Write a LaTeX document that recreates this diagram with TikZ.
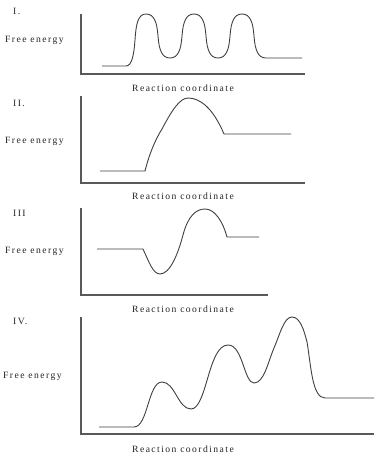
\documentclass[tikz,border=0pt]{standalone}
\usepackage{fontspec}
\setmainfont{Liberation Serif}
\newfontfamily\lblfont[LetterSpace=15]{Liberation Serif}
\begin{document}
\begin{tikzpicture}[x=1pt,y=-1pt,
  lbl/.style={font=\lblfont\fontsize{9.6}{10}\selectfont, inner sep=0pt, text=black!85},
  axis/.style={draw=black!65, line width=1.1pt},
  curve/.style={draw=black!75, line width=0.9pt}]
\useasboundingbox[fill=white] (0,0) rectangle (391,454);
% ---------- Panel I ----------
\node[lbl, anchor=west] (n1) at (13,11) {I.};
\node[lbl, anchor=west] (fe1) at (5,40) {Free energy};
\node[lbl] (rc1) at (183,88) {Reaction coordinate};
\coordinate (a1t) at (81,14); \coordinate (a1o) at (81,74); \coordinate (a1r) at (305,74);
\draw[axis] (a1t) -- (a1o) -- (a1r);
\draw[curve] (102,66) -- (126,66)
  .. controls (132,66) and (134,54) .. (135,40) .. controls (136,24) and (138,14) .. (146,14)
  .. controls (154,14) and (157,22) .. (158,36) .. controls (159,50) and (162,58) .. (170,58)
  .. controls (178,58) and (181,50) .. (182,36) .. controls (183,22) and (186,14) .. (194,14)
  .. controls (202,14) and (205,22) .. (206,36) .. controls (207,50) and (210,58) .. (218,58)
  .. controls (226,58) and (229,50) .. (230,36) .. controls (231,22) and (234,14) .. (242,14)
  .. controls (250,14) and (253,22) .. (254,36) .. controls (255,50) and (258,58) .. (266,58)
  -- (302,58);
% ---------- Panel II ----------
\node[lbl, anchor=west] (n2) at (13,103) {II.};
\node[lbl, anchor=west] (fe2) at (5,141) {Free energy};
\node[lbl] (rc2) at (183,196) {Reaction coordinate};
\coordinate (a2t) at (81,96); \coordinate (a2o) at (81,183); \coordinate (a2r) at (305,183);
\draw[axis] (a2t) -- (a2o) -- (a2r);
\draw[curve] (100,171) -- (145,171)
  .. controls (149,155) and (155,140) .. (162,129)
  .. controls (172,110) and (180,98) .. (188,98)
  .. controls (200,98) and (213,108) .. (224,134)
  -- (291,134);
% ---------- Panel III ----------
\node[lbl, anchor=west] (n3) at (13,213) {III};
\node[lbl, anchor=west] (fe3) at (5,251) {Free energy};
\node[lbl] (rc3) at (183,309) {Reaction coordinate};
\coordinate (a3t) at (81,208); \coordinate (a3o) at (81,295); \coordinate (a3r) at (268,295);
\draw[axis] (a3t) -- (a3o) -- (a3r);
\draw[curve] (97,249) -- (143,249)
  .. controls (149,262) and (153,274) .. (160,274)
  .. controls (170,274) and (178,254) .. (183,235)
  .. controls (188,216) and (196,209) .. (205,209)
  .. controls (215,209) and (223,222) .. (227,237)
  -- (259,237);
% ---------- Panel IV ----------
\node[lbl, anchor=west] (n4) at (13,321) {IV.};
\node[lbl, anchor=west] (fe4) at (3,376) {Free energy};
\node[lbl] (rc4) at (183,449) {Reaction coordinate};
\coordinate (a4t) at (81,317); \coordinate (a4o) at (81,434); \coordinate (a4r) at (374,434);
\draw[axis] (a4t) -- (a4o) -- (a4r);
\draw[curve] (99,427) -- (134,427)
  .. controls (148,427) and (148,382) .. (162,382)
  .. controls (175,382) and (178,409) .. (191,409)
  .. controls (207,409) and (208,345) .. (228,345)
  .. controls (243,345) and (244,383) .. (254,383)
  .. controls (264,383) and (268,362) .. (274,348)
  .. controls (280,334) and (284,317) .. (292,317)
  .. controls (300,317) and (304,330) .. (307,342)
  .. controls (311,365) and (312,398) .. (325,398)
  -- (374,398);
\end{tikzpicture}
\end{document}
